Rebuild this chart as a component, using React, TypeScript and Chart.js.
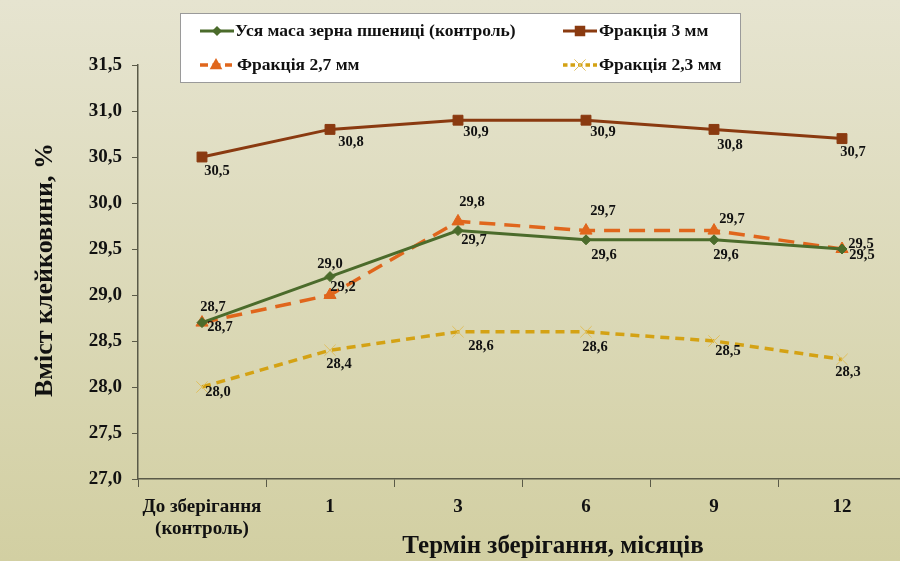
import React, { useEffect, useRef } from "react";
import { Chart, registerables } from "chart.js";

Chart.register(...registerables);

const categories: (string | string[])[] = [["До зберігання", "(контроль)"], "1", "3", "6", "9", "12"];

const seriesNames = [
  "Уся маса зерна пшениці (контроль)",
  "Фракція 3 мм",
  "Фракція 2,7 мм",
  "Фракція 2,3 мм",
];

const wholeMass = [28.7, 29.2, 29.7, 29.6, 29.6, 29.5];
const fraction3 = [30.5, 30.8, 30.9, 30.9, 30.8, 30.7];
const fraction27 = [28.7, 29.0, 29.8, 29.7, 29.7, 29.5];
const fraction23 = [28.0, 28.4, 28.6, 28.6, 28.5, 28.3];

const wholeMassLabels = ["28,7", "29,0", "29,7", "29,6", "29,6", "29,5"];
const fraction3Labels = ["30,5", "30,8", "30,9", "30,9", "30,8", "30,7"];
const fraction27Labels = ["28,7", "29,2", "29,8", "29,7", "29,7", "29,5"];
const fraction23Labels = ["28,0", "28,4", "28,6", "28,6", "28,5", "28,3"];

const yMin = 27.0;
const yMax = 31.5;
const yStep = 0.5;

const yTitle = "Вміст клейковини, %";
const xTitle = "Термін зберігання, місяців";

const FONT = "'Liberation Serif', 'Times New Roman', serif";

const GREEN = "#4b6b2b";
const BROWN = "#8a3a10";
const ORANGE = "#e0661c";
const GOLD = "#d4a214";

// label offsets (style): [dx, dy] per point
const labelOffsets: number[][][] = [
  [[11, -15], [0, -12], [16, 10], [18, 15], [12, 15], [20, 6]],
  [[15, 14], [21, 13], [18, 12], [17, 12], [16, 16], [11, 14]],
  [[18, 5], [13, -8], [14, -19], [17, -19], [18, -11], [19, -5]],
  [[16, 5], [9, 14], [23, 14], [9, 15], [14, 10], [6, 13]],
];

const allLabels = [wholeMassLabels, fraction3Labels, fraction27Labels, fraction23Labels];

export default function App() {
  const ref = useRef<HTMLCanvasElement>(null);

  useEffect(() => {
    const canvas = ref.current!;
    const bgPlugin = {
      id: "bg",
      beforeDraw(chart: any) {
        const { ctx, width, height } = chart;
        const g = ctx.createLinearGradient(0, 0, 0, height);
        g.addColorStop(0, "#e6e4d0");
        g.addColorStop(1, "#d2cfa2");
        ctx.save();
        ctx.fillStyle = g;
        ctx.fillRect(0, 0, width, height);
        ctx.restore();
      },
    };

    const overlayPlugin = {
      id: "overlay",
      afterDatasetsDraw(chart: any) {
        const ctx = chart.ctx;
        ctx.save();
        ctx.font = `bold 14.5px ${FONT}`;
        ctx.fillStyle = "#111";
        ctx.textAlign = "center";
        ctx.textBaseline = "middle";
        chart.data.datasets.forEach((ds: any, di: number) => {
          const meta = chart.getDatasetMeta(di);
          meta.data.forEach((pt: any, i: number) => {
            const off = labelOffsets[di][i];
            ctx.fillText(allLabels[di][i], pt.x + off[0], pt.y + off[1]);
          });
        });
        ctx.restore();
      },
      afterDraw(chart: any) {
        const ctx = chart.ctx;
        ctx.save();
        // axis titles
        ctx.fillStyle = "#111";
        ctx.font = `bold 25px ${FONT}`;
        ctx.textAlign = "center";
        ctx.textBaseline = "middle";
        ctx.fillText(xTitle, 553, 547);
        ctx.save();
        ctx.font = `bold 26px ${FONT}`;
        ctx.translate(45, 270);
        ctx.rotate(-Math.PI / 2);
        ctx.fillText(yTitle, 0, 0);
        ctx.restore();

        // legend box
        ctx.fillStyle = "#ffffff";
        ctx.fillRect(180, 13, 560, 69);
        ctx.strokeStyle = "#9a9a9a";
        ctx.lineWidth = 1;
        ctx.strokeRect(180.5, 13.5, 560, 69);

        const items = [
          { x1: 200, x2: 234, tx: 235, y: 31 },
          { x1: 563, x2: 597, tx: 599, y: 31 },
          { x1: 200, x2: 232, tx: 237, y: 65 },
          { x1: 563, x2: 597, tx: 599, y: 65 },
        ];
        chart.data.datasets.forEach((ds: any, di: number) => {
          const it = items[di];
          ctx.save();
          ctx.strokeStyle = ds.borderColor;
          ctx.lineWidth = ds.borderWidth;
          ctx.setLineDash(ds.borderDash ? ds.borderDash.map((v: number) => v * 0.5) : []);
          ctx.beginPath();
          ctx.moveTo(it.x1, it.y);
          ctx.lineTo(it.x2, it.y);
          ctx.stroke();
          ctx.setLineDash([]);
          const mx = (it.x1 + it.x2) / 2;
          const r = ds.pointRadius;
          ctx.fillStyle = ds.pointBackgroundColor;
          ctx.strokeStyle = ds.pointBorderColor;
          ctx.lineWidth = ds.pointBorderWidth;
          ctx.beginPath();
          if (ds.pointStyle === "rectRot") {
            ctx.moveTo(mx, it.y - r);
            ctx.lineTo(mx + r, it.y);
            ctx.lineTo(mx, it.y + r);
            ctx.lineTo(mx - r, it.y);
            ctx.closePath();
            ctx.fill();
          } else if (ds.pointStyle === "rect") {
            ctx.rect(mx - r * 0.75, it.y - r * 0.75, r * 1.5, r * 1.5);
            ctx.fill();
          } else if (ds.pointStyle === "triangle") {
            ctx.moveTo(mx, it.y - r);
            ctx.lineTo(mx + r * 0.9, it.y + r * 0.6);
            ctx.lineTo(mx - r * 0.9, it.y + r * 0.6);
            ctx.closePath();
            ctx.fill();
          } else {
            ctx.moveTo(mx - r * 0.7, it.y - r * 0.7);
            ctx.lineTo(mx + r * 0.7, it.y + r * 0.7);
            ctx.moveTo(mx + r * 0.7, it.y - r * 0.7);
            ctx.lineTo(mx - r * 0.7, it.y + r * 0.7);
            ctx.stroke();
          }
          ctx.restore();
          ctx.fillStyle = "#111";
          ctx.font = `bold 17.5px ${FONT}`;
          ctx.textAlign = "left";
          ctx.textBaseline = "middle";
          ctx.fillText(ds.label, it.tx, it.y);
        });
        ctx.restore();
      },
    };

    const chart = new Chart(canvas, {
      type: "line",
      data: {
        labels: categories,
        datasets: [
          {
            label: seriesNames[0],
            data: wholeMass,
            borderColor: GREEN,
            backgroundColor: GREEN,
            borderWidth: 3,
            pointStyle: "rectRot",
            pointRadius: 5,
            pointBackgroundColor: GREEN,
            pointBorderColor: GREEN,
            pointBorderWidth: 1,
            tension: 0,
          },
          {
            label: seriesNames[1],
            data: fraction3,
            borderColor: BROWN,
            backgroundColor: BROWN,
            borderWidth: 3,
            pointStyle: "rect",
            pointRadius: 7,
            pointBackgroundColor: BROWN,
            pointBorderColor: BROWN,
            pointBorderWidth: 1,
            tension: 0,
          },
          {
            label: seriesNames[2],
            data: fraction27,
            borderColor: ORANGE,
            backgroundColor: ORANGE,
            borderWidth: 3.5,
            borderDash: [16, 9],
            pointStyle: "triangle",
            pointRadius: 7,
            pointBackgroundColor: ORANGE,
            pointBorderColor: ORANGE,
            pointBorderWidth: 1,
            tension: 0,
          },
          {
            label: seriesNames[3],
            data: fraction23,
            borderColor: GOLD,
            backgroundColor: GOLD,
            borderWidth: 3.5,
            borderDash: [9, 6],
            pointStyle: "crossRot",
            pointRadius: 8,
            pointBackgroundColor: "#e0c060",
            pointBorderColor: "#e0c060",
            pointBorderWidth: 1,
            tension: 0,
          },
        ],
      },
      options: {
        responsive: false,
        animation: false,
        devicePixelRatio: 1,
        layout: { padding: { top: 65, right: 0, left: 0, bottom: 0 } },
        plugins: {
          legend: { display: false },
          tooltip: { enabled: false },
          title: { display: false },
        },
        scales: {
          x: {
            type: "category",
            offset: true,
            afterFit: (s: any) => {
              s.height = 82;
            },
            grid: {
              offset: true,
              drawOnChartArea: false,
              drawTicks: true,
              tickLength: 8,
              color: "#5a5a48",
              lineWidth: 1,
            },
            border: { color: "#5a5a48", width: 1.5 },
            ticks: {
              color: "#111",
              font: { family: FONT, size: 19, weight: "bold", lineHeight: 1.15 },
              padding: 9,
              maxRotation: 0,
              autoSkip: false,
            },
          },
          y: {
            min: yMin,
            max: yMax,
            afterFit: (s: any) => {
              s.width = 138;
            },
            grid: {
              drawOnChartArea: false,
              drawTicks: true,
              tickLength: 6,
              color: "#5a5a48",
            },
            border: { color: "#5a5a48", width: 1.5 },
            ticks: {
              stepSize: yStep,
              color: "#111",
              font: { family: FONT, size: 19, weight: "bold" },
              padding: 10,
              callback: (v: any) => Number(v).toFixed(1).replace(".", ","),
            },
          },
        },
      },
      plugins: [bgPlugin, overlayPlugin],
    } as any);
    return () => chart.destroy();
  }, []);

  return (
    <div style={{ position: "fixed", left: 0, top: 0, width: 900, height: 561, overflow: "hidden" }}>
      <canvas ref={ref} width={915} height={561} style={{ display: "block" }} />
    </div>
  );
}
